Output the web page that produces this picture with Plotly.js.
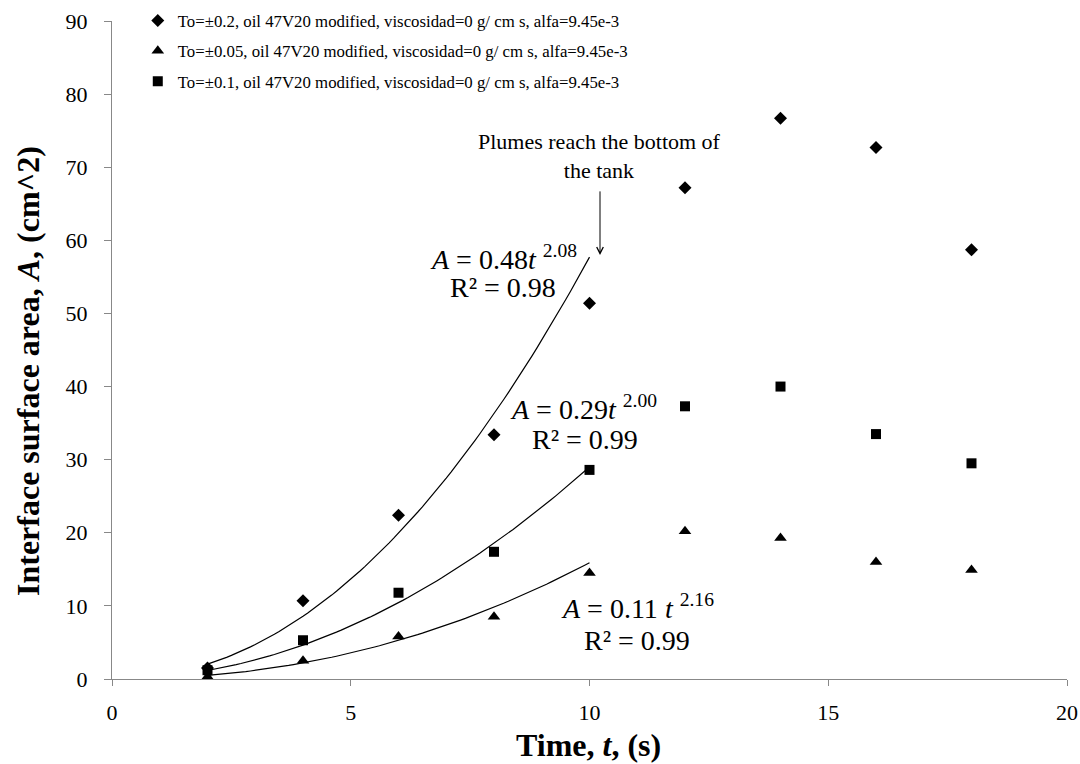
<!DOCTYPE html>
<html><head><meta charset="utf-8">
<script src="https://cdn.plot.ly/plotly-3.0.1.min.js"></script>
<style>body{margin:0;background:#fff}#chart{width:1080px;height:764px}</style>
</head><body><div id="chart"></div>
<script>
var time = [2, 4, 6, 8, 10, 12, 14, 16, 18];
var diamondVals = [1.5, 10.7, 22.4, 33.4, 51.4, 67.2, 76.7, 72.7, 58.7];
var triangleVals = [0.3, 2.5, 5.8, 8.5, 14.5, 20.2, 19.3, 16.0, 14.9];
var squareVals = [1.2, 5.3, 11.8, 17.4, 28.6, 37.3, 40.0, 33.5, 29.5];
var seriesNames = [
  "To=±0.2, oil 47V20 modified, viscosidad=0 g/ cm s, alfa=9.45e-3",
  "To=±0.05, oil 47V20 modified, viscosidad=0 g/ cm s, alfa=9.45e-3",
  "To=±0.1, oil 47V20 modified, viscosidad=0 g/ cm s, alfa=9.45e-3"
];
// power-law trendline coefficients shown on the chart (A = a t^b), fitted over t = 2..10
var fitA = [0.48, 0.11, 0.29];
var fitB = [2.08, 2.16, 2.00];
var fitRange = [2, 10];

var fitT = [];
for (var i = 0; i <= 80; i++) fitT.push(fitRange[0] + (fitRange[1] - fitRange[0]) * i / 80);
function fitCurve(k) { return fitT.map(function (t) { return fitA[k] * Math.pow(t, fitB[k]); }); }

var font = "'Liberation Serif', 'Times New Roman', serif";
var traces = [
  {x: time, y: diamondVals, mode: "markers", name: seriesNames[0], legendgroup: "a",
   marker: {symbol: "diamond", size: 10, color: "#000"}},
  {x: time, y: triangleVals, mode: "markers", name: seriesNames[1], legendgroup: "b",
   marker: {symbol: "triangle-up", size: 11, color: "#000"}},
  {x: time, y: squareVals, mode: "markers", name: seriesNames[2], legendgroup: "c",
   marker: {symbol: "square", size: 10, color: "#000"}}
];
for (var k = 0; k < 3; k++) {
  traces.push({x: fitT, y: fitCurve(k), mode: "lines", showlegend: false, hoverinfo: "skip",
    line: {color: "#000", width: 1.2}});
}

var ann = [
  {x: 10.2, y: 71.5, text: "Plumes reach the bottom of<br>the tank", size: 22},
  {x: 8.19, y: 57.7, text: "<i>A</i> = 0.48<i>t</i> <sup>2.08</sup>", size: 28},
  {x: 8.19, y: 53.6, text: "R² = 0.98", size: 28},
  {x: 9.88, y: 37.2, text: "<i>A</i> = 0.29<i>t</i> <sup>2.00</sup>", size: 28},
  {x: 9.9, y: 32.7, text: "R² = 0.99", size: 28},
  {x: 11.0, y: 9.85, text: "<i>A</i> = 0.11 <i>t</i> <sup>2.16</sup>", size: 28},
  {x: 11.0, y: 5.3, text: "R² = 0.99", size: 28}
].map(function (a) {
  return {x: a.x, y: a.y, xref: "x", yref: "y", text: a.text, showarrow: false,
    font: {family: font, size: a.size, color: "#000"}, xanchor: "center", yanchor: "middle"};
});
ann.push({x: 10.22, y: 58.0, ax: 10.22, ay: 66.9, xref: "x", yref: "y", axref: "x", ayref: "y",
  text: "", showarrow: true, arrowhead: 5, arrowsize: 1.3, arrowwidth: 1, arrowcolor: "#000"});
ann.push({x: -0.088, y: 0.468, xref: "paper", yref: "paper", textangle: -90, showarrow: false,
  text: "<b>Interface surface area, <i>A</i>, (cm^2)</b>", xanchor: "center", yanchor: "middle",
  font: {family: font, size: 32, color: "#000"}});
ann.push({x: 0.499, y: -0.10, xref: "paper", yref: "paper", showarrow: false,
  text: "<b>Time, <i>t</i>, (s)</b>", xanchor: "center", yanchor: "middle",
  font: {family: font, size: 32, color: "#000"}});

var layout = {
  width: 1080, height: 764,
  margin: {l: 112, r: 13, t: 21, b: 85, autoexpand: false},
  paper_bgcolor: "#fff", plot_bgcolor: "#fff",
  font: {family: font, color: "#000"},
  showlegend: true,
  legend: {x: 0.027, y: 0.996, yref: "container", xanchor: "left", yanchor: "top", bgcolor: "rgba(0,0,0,0)",
    traceorder: "grouped", tracegroupgap: 5.5,
    font: {family: font, size: 16.8, color: "#000"}, itemwidth: 30},
  xaxis: {range: [0, 20], dtick: 5, showgrid: false, zeroline: false, showline: true,
    linecolor: "#888", linewidth: 1, ticks: "outside", ticklen: 6, tickcolor: "#888",
    ticklabelstandoff: 8, automargin: false,
    tickfont: {family: font, size: 22, color: "#000"}},
  yaxis: {range: [0, 90], dtick: 10, showgrid: false, zeroline: false, showline: true,
    linecolor: "#888", linewidth: 1, ticks: "outside", ticklen: 7, tickcolor: "#888",
    ticklabelstandoff: 12, automargin: false,
    tickfont: {family: font, size: 22, color: "#000"}},
  annotations: ann
};
Plotly.newPlot("chart", traces, layout, {displayModeBar: false, staticPlot: true});
</script></body></html>
